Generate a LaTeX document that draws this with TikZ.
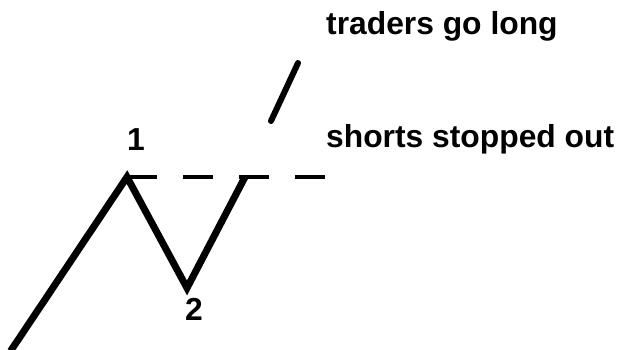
\documentclass[tikz,border=0pt]{standalone}
\usepackage{fontspec}
\setmainfont{Liberation Sans}
\begin{document}
\begin{tikzpicture}[x=1pt,y=-1pt,
  lbl/.style={font=\bfseries\fontsize{31.8}{32}\selectfont, inner sep=0pt},
  trend/.style={line width=7pt, line join=miter},
  stoplevel/.style={line width=4pt, dash pattern=on 30pt off 26pt},
  move/.style={line width=6pt, line cap=round}]
\useasboundingbox (0,0) rectangle (622,349);
\coordinate (s) at (10.6,351);
\coordinate (p1) at (127,177);
\coordinate (p2) at (187,288);
\coordinate (p3) at (245,177);
\coordinate (d1) at (127,176.5);
\coordinate (d2) at (327,176.5);
\coordinate (m1) at (271,121);
\coordinate (m2) at (298,63);
\draw[trend] (s) -- (p1) -- (p2) -- (p3);
\draw[stoplevel] (d1) -- (d2);
\draw[move] (m1) -- (m2);
\node[lbl, anchor=base west] (tl) at (326,34) {traders go long};
\node[lbl, anchor=base west] (ss) at (326,147.5) {shorts stopped out};
\node[lbl, anchor=base] (n1) at (136,150) {1};
\node[lbl, anchor=base] (n2) at (194,320) {2};
\end{tikzpicture}
\end{document}
